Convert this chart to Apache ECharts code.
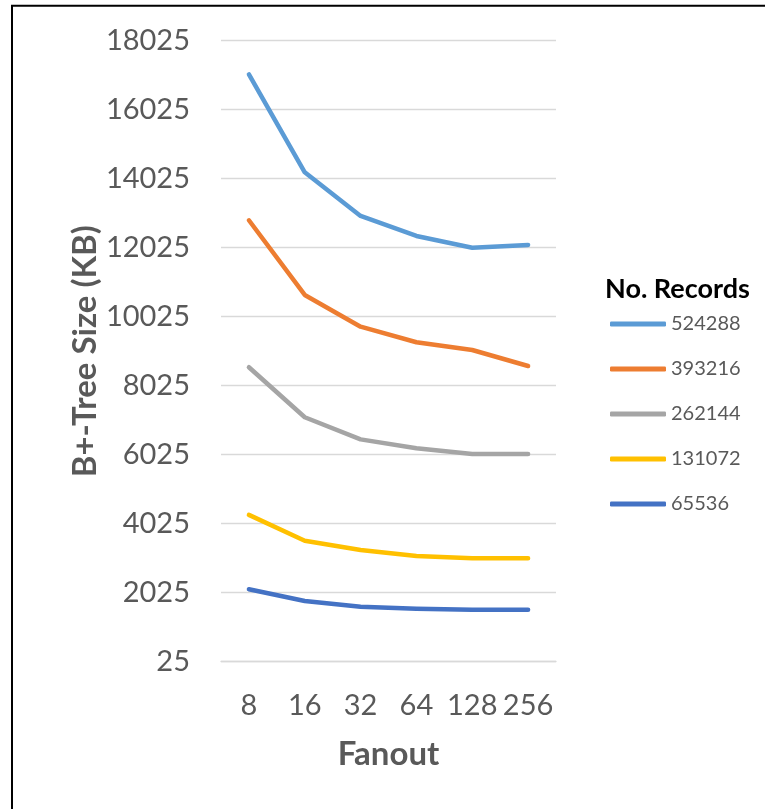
<!DOCTYPE html>
<html lang="en" style="height: 100%">

<head>
    <meta charset="utf-8">
    <script type="text/javascript" src="https://cdn.jsdelivr.net/npm/echarts@6.0.0/dist/echarts.min.js"></script>
</head>

<body style="height: 100%; margin: 0; background: #fff">
    <div id="lineChart" style="height: 809px; width: 765px"></div>

    <script type="text/javascript">
        // fanout categories
        var fanouts = ['8', '16', '32', '64', '128', '256'];
        // B+-tree size (KB) per number of records
        var records = ['524288', '393216', '262144', '131072', '65536'];
        var size524288 = [17050, 14210, 12945, 12365, 12025, 12105];
        var size393216 = [12820, 10655, 9735, 9285, 9060, 8595];
        var size262144 = [8560, 7110, 6470, 6210, 6045, 6045];
        var size131072 = [4280, 3530, 3265, 3090, 3020, 3020];
        var size65536 = [2125, 1785, 1620, 1560, 1530, 1530];
        var colors = ['#5B9BD5', '#ED7D31', '#A5A5A5', '#FFC000', '#4472C4'];

        var allSizes = [size524288, size393216, size262144, size131072, size65536];
        var font = 'Lato, "Liberation Sans", sans-serif';

        var lineChart = echarts.init(document.getElementById('lineChart'));
        var option = {
            animation: false,
            color: colors,
            title: {
                text: 'No. Records',
                left: 600,
                top: 271,
                textStyle: { fontFamily: font, fontSize: 27, fontWeight: 'bold', color: '#000' }
            },
            legend: {
                orient: 'vertical',
                left: 605,
                top: 307,
                icon: 'roundRect',
                itemWidth: 56,
                itemHeight: 5,
                itemGap: 21,
                data: records,
                textStyle: { fontFamily: font, fontSize: 20, lineHeight: 24, color: '#595959' }
            },
            grid: {
                left: 221,
                right: 209,
                top: 40.7,
                bottom: 147.3,
                containLabel: false
            },
            xAxis: {
                type: 'category',
                data: fanouts,
                name: 'Fanout',
                nameLocation: 'middle',
                nameGap: 76,
                nameTextStyle: { fontFamily: font, fontSize: 33, fontWeight: 'bold', color: '#595959' },
                axisLine: { show: true, lineStyle: { color: '#D9D9D9', width: 1.3 } },
                axisTick: { show: false },
                axisLabel: { interval: 0, hideOverlap: false, fontFamily: font, fontSize: 29, color: '#595959', margin: 29 }
            },
            yAxis: {
                type: 'value',
                min: 25,
                max: 18025,
                interval: 2000,
                name: 'B+-Tree Size (KB)',
                nameLocation: 'middle',
                nameGap: 118,
                nameTextStyle: { fontFamily: font, fontSize: 33, fontWeight: 'bold', color: '#595959' },
                axisLine: { show: false },
                axisTick: { show: false },
                axisLabel: {
                    fontFamily: font, fontSize: 29, color: '#595959', margin: 31,
                    formatter: function (v) { return String(v); }
                },
                splitLine: { lineStyle: { color: '#D9D9D9', width: 1.3 } }
            },
            graphic: [{
                type: 'rect',
                shape: { x: 12, y: 5.7, width: 900, height: 900 },
                style: { fill: 'none', stroke: '#000', lineWidth: 2 }
            }],
            series: records.map(function (name, i) {
                return {
                    name: name,
                    type: 'line',
                    data: allSizes[i],
                    symbol: 'none',
                    lineStyle: { width: 4.5, cap: 'round', join: 'round' }
                };
            })
        };
        lineChart.setOption(option);
    </script>
</body>

</html>
